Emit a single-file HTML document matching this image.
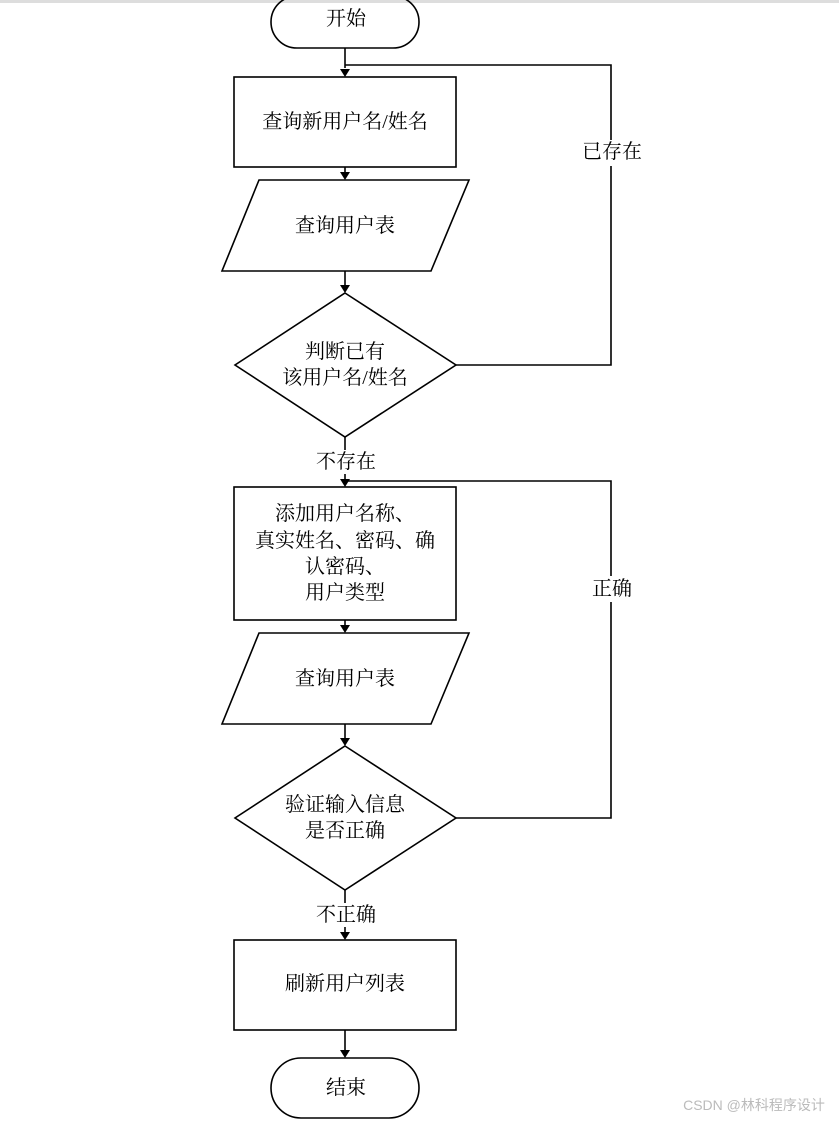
<!DOCTYPE html>
<html><head><meta charset="utf-8"><style>
html,body{margin:0;padding:0;background:#fff;}
svg{display:block}
text{font-family:"Liberation Serif","Noto Serif CJK SC",serif;font-size:20px;fill:#000;text-anchor:middle;dominant-baseline:central}
</style></head><body>
<svg width="839" height="1121" viewBox="0 0 839 1121" xmlns="http://www.w3.org/2000/svg">
<defs><marker id="a" markerWidth="10" markerHeight="10" refX="5" refY="8" orient="auto" markerUnits="userSpaceOnUse"><path d="M0,0 L10,0 L5,9 z" fill="#000" transform="rotate(-90 5 5) rotate(90 5 5)"/></marker></defs>
<rect x="0" y="0" width="839" height="3" fill="#ddd"/>
<g fill="none" stroke="#000" stroke-width="1.6">
<rect x="271" y="-4" width="148" height="52" rx="26"/>
<rect x="234" y="77" width="222" height="90"/>
<polygon points="259,180 469,180 431,271 222,271"/>
<polygon points="345,293 456,365 345,437 235,365"/>
<rect x="234" y="487" width="222" height="133"/>
<polygon points="259,633 469,633 431,724 222,724"/>
<polygon points="345,746 456,818 345,890 235,818"/>
<rect x="234" y="940" width="222" height="90"/>
<rect x="271" y="1058" width="148" height="60" rx="30"/>
<path d="M345,48 V68"/><path d="M345,167 V172"/><path d="M345,271 V285"/>
<path d="M345,437 V450"/><path d="M345,474 V479"/>
<path d="M345,620 V625"/><path d="M345,724 V738"/>
<path d="M345,890 V903"/><path d="M345,927 V932"/>
<path d="M345,1030 V1050"/>
<path d="M456,365 H611 V65 H345"/>
<path d="M456,818 H611 V481 H345"/>
</g>
<g fill="#000">
<path d="M340,69 L350,69 L345,77 z"/><path d="M340,172 L350,172 L345,180 z"/><path d="M340,285 L350,285 L345,293 z"/>
<path d="M340,479 L350,479 L345,487 z"/><path d="M340,625 L350,625 L345,633 z"/><path d="M340,738 L350,738 L345,746 z"/>
<path d="M340,932 L350,932 L345,940 z"/><path d="M340,1050 L350,1050 L345,1058 z"/>
</g>
<rect x="578" y="140" width="68" height="26" fill="#fff"/>
<rect x="588" y="576" width="48" height="26" fill="#fff"/>
<text x="346" y="19">开始</text>
<text x="345" y="122">查询新用户名/姓名</text>
<text x="345" y="226">查询用户表</text>
<text x="345" y="352">判断已有</text>
<text x="345" y="378">该用户名/姓名</text>
<text x="612" y="152">已存在</text>
<text x="346" y="462">不存在</text>
<text x="345" y="514">添加用户名称、</text>
<text x="345" y="541">真实姓名、密码、确</text>
<text x="345" y="567">认密码、</text>
<text x="345" y="593">用户类型</text>
<text x="612" y="589">正确</text>
<text x="345" y="679">查询用户表</text>
<text x="345" y="805">验证输入信息</text>
<text x="345" y="831">是否正确</text>
<text x="346" y="915">不正确</text>
<text x="345" y="984">刷新用户列表</text>
<text x="346" y="1088">结束</text>
<text x="754" y="1105" style="font-family:'Liberation Sans','Noto Sans CJK SC',sans-serif;font-size:14px;fill:#bbb">CSDN @林科程序设计</text>
</svg>
</body></html>
